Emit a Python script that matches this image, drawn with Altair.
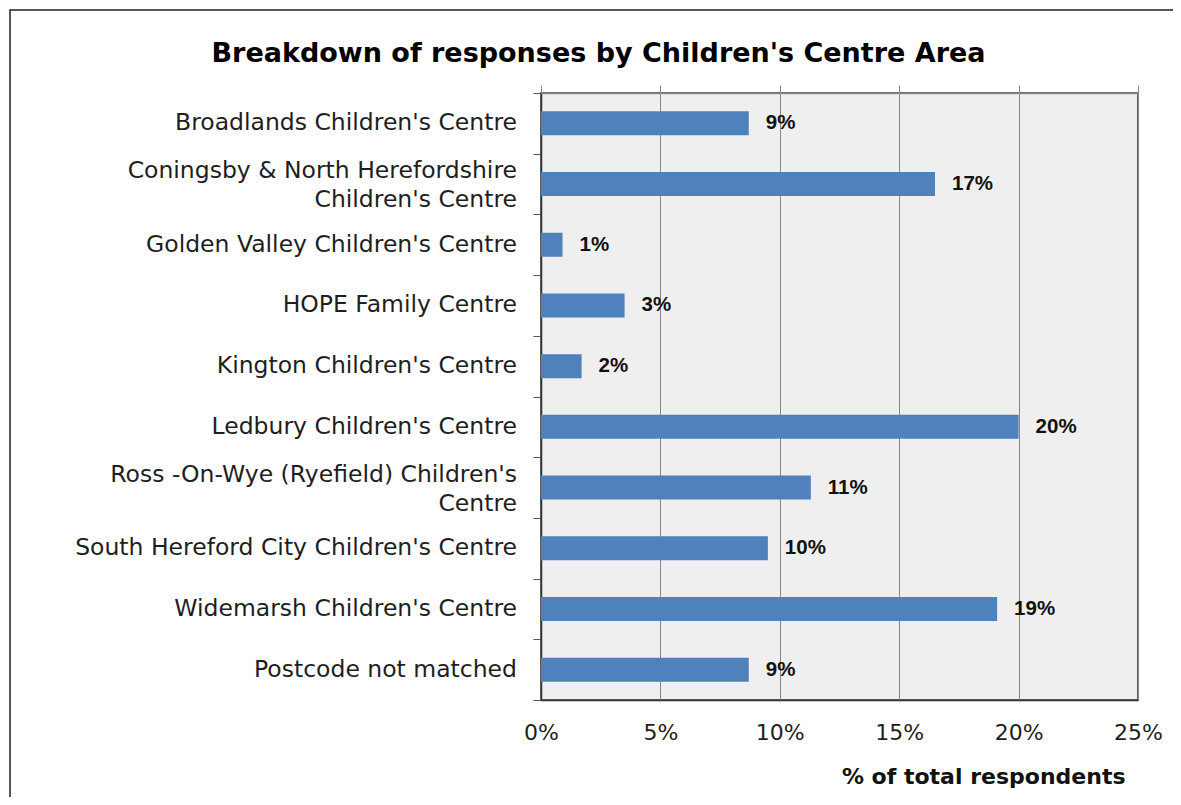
import altair as alt
import pandas as pd

chart_title = "Breakdown of responses by Children's Centre Area"
categories = [
    "Broadlands Children's Centre",
    "Coningsby & North Herefordshire|Children's Centre",
    "Golden Valley Children's Centre",
    "HOPE Family Centre",
    "Kington Children's Centre",
    "Ledbury Children's Centre",
    "Ross -On-Wye (Ryefield) Children's|Centre",
    "South Hereford City Children's Centre",
    "Widemarsh Children's Centre",
    "Postcode not matched",
]
values = [8.7, 16.5, 0.9, 3.5, 1.7, 20.0, 11.3, 9.5, 19.1, 8.7]
value_labels = ["9%", "17%", "1%", "3%", "2%", "20%", "11%", "10%", "19%", "9%"]
x_ticks = [0, 5, 10, 15, 20, 25]

df = pd.DataFrame({"centre": categories, "pct": values, "label": value_labels})

W, H = 597, 607
LABEL_FONT = "DejaVu Sans"

x_scale = alt.Scale(domain=[0, 25], nice=False, zero=True)
y_enc = alt.Y(
    "centre:N",
    sort=categories,
    scale=alt.Scale(paddingInner=0, paddingOuter=0),
    axis=alt.Axis(
        title=None,
        labels=False,
        tickBand="extent",
        tickSize=8,
        tickColor="#555555",
        domainColor="#333333",
        domainWidth=1.5,
        grid=False,
    ),
)
y_plain = alt.Y("centre:N", sort=categories)

frame = alt.Chart(pd.DataFrame({"a": [0]})).mark_rect(
    fill=None, stroke="#222222", strokeWidth=1.5
).encode(
    x=alt.value(-531), x2=alt.value(800), y=alt.value(-83), y2=alt.value(900)
)

bars = alt.Chart(df).mark_bar(size=24, color="#4f81bd").encode(
    x=alt.X(
        "pct:Q",
        scale=x_scale,
        axis=alt.Axis(
            orient="bottom",
            values=x_ticks,
            labelExpr="datum.value + '%'",
            labelFont=LABEL_FONT,
            labelFontSize=22,
            labelColor="#1e1e1e",
            labelPadding=22,
            labelFlush=False,
            ticks=False,
            domainColor="#333333",
            domainWidth=1.5,
            grid=True,
            gridColor="#878787",
            gridWidth=1,
            title="% of total respondents",
            titleFont=LABEL_FONT,
            titleFontSize=22,
            titleFontWeight="bold",
            titleColor="#111111",
            titleAnchor="end",
            titleAlign="right",
            titleX=584,
            titleY=76,
            titleBaseline="middle",
        ),
    ),
    y=y_enc,
)

texts = alt.Chart(df).mark_text(
    align="left", baseline="middle", dx=17,
    font="Liberation Sans", fontSize=20.5, fontWeight="bold", color="#111111"
).encode(
    x=alt.X(
        "pct:Q",
        scale=x_scale,
        axis=alt.Axis(
            orient="top",
            values=x_ticks,
            labels=False,
            ticks=True,
            tickSize=8,
            tickColor="#888888",
            domain=True,
            domainColor="#8a8a8a",
            domainWidth=1.5,
            grid=False,
            title=None,
            zindex=1,
        ),
    ),
    y=y_plain,
    text="label:N",
)

label_style = dict(
    align="right", font=LABEL_FONT, fontSize=23.5, color="#1e1e1e",
    lineBreak="|", lineHeight=29,
)
cat_single = alt.Chart(df).transform_filter(
    "indexof(datum.centre, '|') < 0"
).mark_text(baseline="middle", **label_style).encode(
    x=alt.value(-24), y=y_plain, text="centre:N"
)
cat_double = alt.Chart(df).transform_filter(
    "indexof(datum.centre, '|') >= 0"
).mark_text(baseline="line-bottom", dy=2, **label_style).encode(
    x=alt.value(-24), y=y_plain, text="centre:N"
)

chart = (
    alt.layer(frame, bars, texts, cat_single, cat_double)
    .resolve_axis(x="independent")
    .properties(
        width=W,
        height=H,
        autosize=alt.AutoSizeParams(type="none"),
        padding={"left": 533, "top": 85, "right": 35, "bottom": 97},
        title=alt.TitleParams(
            text=chart_title,
            font=LABEL_FONT,
            fontSize=27,
            fontWeight="bold",
            color="#000000",
            anchor="middle",
            frame="group",
            baseline="middle",
            dx=-241,
            offset=-72,
        ),
    )
    .configure(background="white")
    .configure_view(fill="#efefef", stroke="#333333", strokeWidth=1.5)
)

chart.save("out.html", embed_options={"renderer": "svg", "actions": False})
